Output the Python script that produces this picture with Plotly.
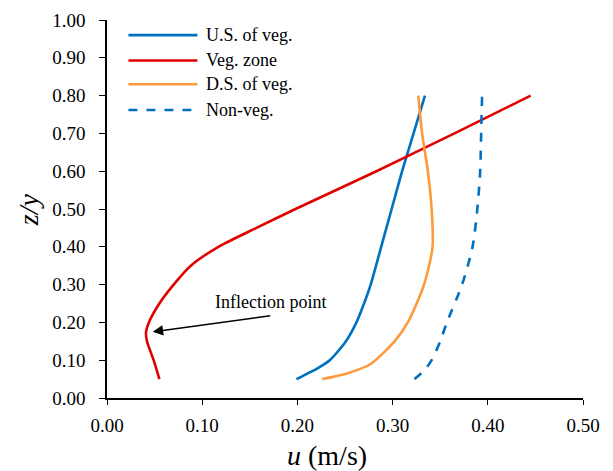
import plotly.graph_objects as go

# Velocity profiles: relative depth z/y versus streamwise velocity u (m/s)
us_z = [0.05, 0.08, 0.10, 0.15, 0.20, 0.25, 0.30, 0.40, 0.50, 0.60, 0.70, 0.80]
us_u = [0.199, 0.222, 0.234, 0.251, 0.262, 0.270, 0.277, 0.288, 0.299, 0.310, 0.322, 0.334]

veg_z = [0.05, 0.10, 0.15, 0.175, 0.20, 0.25, 0.30, 0.35, 0.40, 0.45, 0.50, 0.60, 0.70, 0.80]
veg_u = [0.055, 0.049, 0.042, 0.041, 0.044, 0.055, 0.070, 0.088, 0.117, 0.157, 0.198, 0.283, 0.365, 0.445]

ds_z = [0.05, 0.065, 0.09, 0.15, 0.20, 0.30, 0.40, 0.50, 0.60, 0.70, 0.80]
ds_u = [0.226, 0.252, 0.277, 0.302, 0.316, 0.333, 0.342, 0.341, 0.337, 0.331, 0.327]

nv_z = [0.05, 0.075, 0.10, 0.15, 0.20, 0.30, 0.40, 0.50, 0.60, 0.70, 0.80]
nv_u = [0.323, 0.334, 0.341, 0.350, 0.357, 0.373, 0.384, 0.389, 0.392, 0.393, 0.394]

x_ticks = [0.0, 0.1, 0.2, 0.3, 0.4, 0.5]
y_ticks = [round(0.1 * i, 1) for i in range(11)]

BLUE = "#0070C0"
RED = "#E00000"
ORANGE = "#FF9A3C"
FONT = "Liberation Serif, Times New Roman, serif"

series = [
    ("U.S. of veg.", us_u, us_z, BLUE, "solid"),
    ("Veg. zone", veg_u, veg_z, RED, "solid"),
    ("D.S. of veg.", ds_u, ds_z, ORANGE, "solid"),
    ("Non-veg.", nv_u, nv_z, BLUE, "dash"),
]

fig = go.Figure()
for name, u, z, color, dash in series:
    fig.add_trace(go.Scatter(
        x=u, y=z, mode="lines", name=name,
        line=dict(color=color, width=2.6, dash=dash, shape="spline", smoothing=0.7),
        showlegend=False,
    ))

# hand-built legend in the upper-left corner
legend_rows = [0.960, 0.893, 0.830, 0.762]
for (name, u, z, color, dash), yy in zip(series, legend_rows):
    fig.add_shape(type="line", xref="paper", yref="paper",
                  x0=0.045, x1=0.19, y0=yy, y1=yy,
                  line=dict(color=color, width=2.6, dash=dash))
    fig.add_annotation(xref="paper", yref="paper", x=0.203, y=yy,
                       text=name, showarrow=False, xanchor="left", yanchor="middle",
                       font=dict(family=FONT, size=18, color="#000"))

# inflection point callout
fig.add_annotation(x=0.048, y=0.175, ax=0.173, ay=0.218, xref="x", yref="y",
                   axref="x", ayref="y", text="", showarrow=True,
                   arrowhead=2, arrowsize=1.3, arrowwidth=1.6, arrowcolor="#000")
fig.add_annotation(x=0.172, y=0.255, xref="x", yref="y", text="Inflection point",
                   showarrow=False, font=dict(family=FONT, size=18, color="#000"))

# axis titles
fig.add_annotation(xref="paper", yref="paper", x=0.462, y=0, yshift=-57,
                   text="<i>u</i> (m/s)", showarrow=False, xanchor="center", yanchor="middle",
                   font=dict(family=FONT, size=28, color="#000"))
fig.add_annotation(xref="paper", yref="paper", x=0, xshift=-79, y=0.497,
                   text="<i>z/y</i>", showarrow=False, textangle=-90,
                   xanchor="center", yanchor="middle",
                   font=dict(family=FONT, size=28, color="#000"))

fig.update_layout(
    width=613, height=471,
    margin=dict(l=107, r=30, t=20, b=73),
    paper_bgcolor="white", plot_bgcolor="white",
    font=dict(family=FONT, size=19, color="#000"),
    xaxis=dict(
        range=[0, 0.5], tickvals=x_ticks, ticktext=[f"{v:.2f}" for v in x_ticks],
        showgrid=False, zeroline=False, showline=True, linecolor="#000", linewidth=1.5,
        ticks="outside", ticklen=5, tickwidth=1.2, tickcolor="#000",
        ticklabelstandoff=4, tickfont=dict(family=FONT, size=19), automargin=False,
    ),
    yaxis=dict(
        range=[0, 1.0], tickvals=y_ticks, ticktext=[f"{v:.2f}" for v in y_ticks],
        showgrid=False, zeroline=False, showline=True, linecolor="#000", linewidth=1.5,
        ticks="outside", ticklen=6, tickwidth=1.2, tickcolor="#000",
        ticklabelstandoff=10, tickfont=dict(family=FONT, size=19), automargin=False,
    ),
)

fig.write_html("out.html")
